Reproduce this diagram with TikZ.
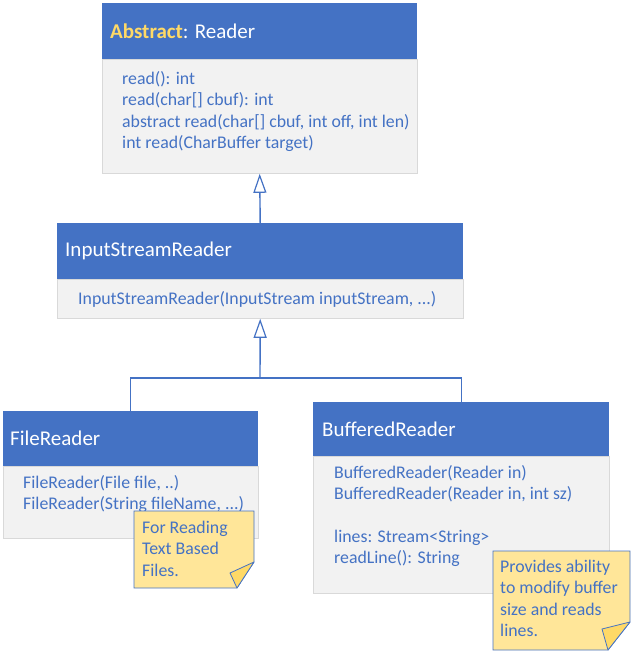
\documentclass[tikz,border=0pt]{standalone}
\usepackage{fontspec}
\setmainfont{Carlito}
\usetikzlibrary{positioning,arrows.meta}
\definecolor{umlblue}{HTML}{4472C4}
\definecolor{bodygrey}{HTML}{F2F2F2}
\definecolor{bodyline}{HTML}{D9D9D9}
\definecolor{abstractgold}{HTML}{FFD966}
\definecolor{notefill}{HTML}{FFE699}
\definecolor{foldfill}{HTML}{FFD966}
\begin{document}
\begin{tikzpicture}[x=1pt, y=-1pt,
    hdr/.style={anchor=north west, fill=umlblue, inner sep=0pt},
    bodybox/.style={anchor=north west, fill=bodygrey, draw=bodyline, inner sep=0pt},
    title/.style={anchor=west, text=white, font=\fontsize{21}{25}\selectfont, inner sep=0pt},
    members/.style={text=umlblue, font=\fontsize{17.8}{21.3}\selectfont, align=left, inner sep=0pt},
    notetext/.style={anchor=north west, text=umlblue, font=\fontsize{17.8}{21.3}\selectfont, align=left, inner sep=0pt},
    noteshape/.style={fill=notefill, draw=umlblue, line width=0.8pt},
    foldshape/.style={fill=foldfill, draw=umlblue, line width=0.8pt, line join=round},
    umlline/.style={draw=umlblue, line width=1.4pt},
    inherit/.style={umlline, -{Triangle[open, width=13pt, length=19pt, line width=1.2pt]}}]
  \useasboundingbox (0,0) rectangle (638,655);

  % Reader
  \node[hdr, minimum width=315pt, minimum height=56pt] (reader) at (102,3) {};
  \node[title, right=8pt of reader.west] (readertitle) {\textcolor{abstractgold}{\textbf{Abstract}}: Reader};
  \node[bodybox, minimum width=315pt, minimum height=114pt] (readerbody) at (reader.south west) {};
  \node[members, below right=12pt and 20pt of readerbody.north west] (readerops)
    {read(): int\\read(char[] cbuf): int\\abstract read(char[] cbuf, int off, int len)\\int read(CharBuffer target)};

  % InputStreamReader
  \node[hdr, minimum width=406pt, minimum height=56pt] (isr) at (57,223) {};
  \node[title, right=8pt of isr.west] (isrtitle) {InputStreamReader};
  \node[bodybox, minimum width=406pt, minimum height=39pt] (isrbody) at (isr.south west) {};
  \node[members, below right=12pt and 21pt of isrbody.north west] (isrops)
    {InputStreamReader(InputStream inputStream, ...)};

  % FileReader
  \node[hdr, minimum width=255pt, minimum height=55pt] (fr) at (3,411) {};
  \node[title, right=7pt of fr.west] (frtitle) {FileReader};
  \node[bodybox, minimum width=255pt, minimum height=72pt] (frbody) at (fr.south west) {};
  \node[members, below right=9pt and 20pt of frbody.north west] (frops)
    {FileReader(File file, ..)\\FileReader(String fileName, ...)};

  % BufferedReader
  \node[hdr, minimum width=296pt, minimum height=54pt] (br) at (313,402) {};
  \node[title, right=9pt of br.west] (brtitle) {BufferedReader};
  \node[bodybox, minimum width=296pt, minimum height=137pt] (brbody) at (br.south west) {};
  \node[members, below right=9pt and 21pt of brbody.north west] (brops)
    {BufferedReader(Reader in)\\BufferedReader(Reader in, int sz)\\[21.3pt]lines: Stream<String>\\readLine(): String};

  % inheritance
  \draw[inherit] (isr.north) -- (readerbody.south);
  \coordinate (fork) at (260,378);
  \draw[umlline] (fr.north) |- (fork) -| (br.north);
  \draw[inherit] (fork) -- (isrbody.south);

  % notes
  \draw[noteshape] (134,511) -- (254,511) -- (254,562) -- (237,588) -- (134,588) -- cycle;
  \draw[foldshape] (254,562) -- (230,573) -- (237,588) -- cycle;
  \node[notetext] (frnote) at (142,521) {For Reading\\Text Based\\Files.};
  \draw[noteshape] (493,551) -- (630,551) -- (630,622) -- (608,650) -- (493,650) -- cycle;
  \draw[foldshape] (630,622) -- (602,629) -- (608,650) -- cycle;
  \node[notetext] (brnote) at (500,560) {Provides ability\\to modify buffer\\size and reads\\lines.};
\end{tikzpicture}
\end{document}
